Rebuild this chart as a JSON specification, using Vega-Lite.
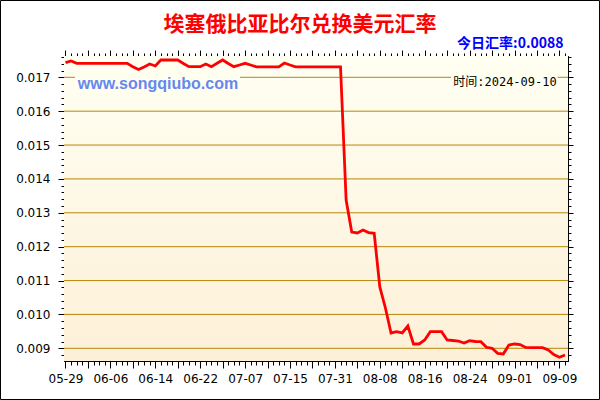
{
  "$schema": "https://vega.github.io/schema/vega-lite/v6.json",
  "width": 504,
  "height": 305,
  "autosize": {"type": "none"},
  "padding": {"left": 64, "top": 56, "right": 32, "bottom": 39},
  "background": "#FFFFFF",
  "title": {"text": "埃塞俄比亚比尔兑换美元汇率", "font": "Noto Sans CJK SC", "fontSize": 21, "fontWeight": "bold", "color": "#FF0000", "anchor": "middle", "baseline": "middle", "dx": -16, "offset": 0, "dy": 46},
  "datasets": {
    "rates": [
      {"i": 0, "rate": 0.017431}, {"i": 1, "rate": 0.017481}, {"i": 2, "rate": 0.017413}, {"i": 3, "rate": 0.017413},
      {"i": 4, "rate": 0.017413}, {"i": 5, "rate": 0.017413}, {"i": 6, "rate": 0.017413}, {"i": 7, "rate": 0.017413},
      {"i": 8, "rate": 0.017413}, {"i": 9, "rate": 0.017413}, {"i": 10, "rate": 0.017413}, {"i": 11, "rate": 0.017413},
      {"i": 12, "rate": 0.017313}, {"i": 13, "rate": 0.01723}, {"i": 14, "rate": 0.017304}, {"i": 15, "rate": 0.017393},
      {"i": 16, "rate": 0.017334}, {"i": 17, "rate": 0.017511}, {"i": 18, "rate": 0.017511}, {"i": 19, "rate": 0.017511},
      {"i": 20, "rate": 0.017511}, {"i": 21, "rate": 0.017407}, {"i": 22, "rate": 0.017313}, {"i": 23, "rate": 0.017313},
      {"i": 24, "rate": 0.017313}, {"i": 25, "rate": 0.017393}, {"i": 26, "rate": 0.017313}, {"i": 27, "rate": 0.017413},
      {"i": 28, "rate": 0.017511}, {"i": 29, "rate": 0.017407}, {"i": 30, "rate": 0.017313}, {"i": 31, "rate": 0.017363},
      {"i": 32, "rate": 0.017413}, {"i": 33, "rate": 0.017363}, {"i": 34, "rate": 0.01731}, {"i": 35, "rate": 0.01731},
      {"i": 36, "rate": 0.01731}, {"i": 37, "rate": 0.01731}, {"i": 38, "rate": 0.01731}, {"i": 39, "rate": 0.017422},
      {"i": 40, "rate": 0.017363}, {"i": 41, "rate": 0.01731}, {"i": 42, "rate": 0.01731}, {"i": 43, "rate": 0.01731},
      {"i": 44, "rate": 0.01731}, {"i": 45, "rate": 0.01731}, {"i": 46, "rate": 0.01731}, {"i": 47, "rate": 0.01731},
      {"i": 48, "rate": 0.01731}, {"i": 49, "rate": 0.01731}, {"i": 50, "rate": 0.013378}, {"i": 51, "rate": 0.012433},
      {"i": 52, "rate": 0.012404}, {"i": 53, "rate": 0.012492}, {"i": 54, "rate": 0.012418}, {"i": 55, "rate": 0.012395},
      {"i": 56, "rate": 0.01081}, {"i": 57, "rate": 0.01019}, {"i": 58, "rate": 0.009452}, {"i": 59, "rate": 0.00949},
      {"i": 60, "rate": 0.009452}, {"i": 61, "rate": 0.009658}, {"i": 62, "rate": 0.009127}, {"i": 63, "rate": 0.009127},
      {"i": 64, "rate": 0.009245}, {"i": 65, "rate": 0.00949}, {"i": 66, "rate": 0.00949}, {"i": 67, "rate": 0.00949},
      {"i": 68, "rate": 0.009245}, {"i": 69, "rate": 0.00923}, {"i": 70, "rate": 0.009215}, {"i": 71, "rate": 0.009156},
      {"i": 72, "rate": 0.009224}, {"i": 73, "rate": 0.009201}, {"i": 74, "rate": 0.009195}, {"i": 75, "rate": 0.00903},
      {"i": 76, "rate": 0.009}, {"i": 77, "rate": 0.008852}, {"i": 78, "rate": 0.008832}, {"i": 79, "rate": 0.009097},
      {"i": 80, "rate": 0.009127}, {"i": 81, "rate": 0.009112}, {"i": 82, "rate": 0.009024}, {"i": 83, "rate": 0.009018},
      {"i": 84, "rate": 0.009018}, {"i": 85, "rate": 0.009018}, {"i": 86, "rate": 0.00895}, {"i": 87, "rate": 0.008817},
      {"i": 88, "rate": 0.008734}, {"i": 89, "rate": 0.0088}
    ],
    "grid": [
      {"v": 0.009}, {"v": 0.01}, {"v": 0.011}, {"v": 0.012}, {"v": 0.013},
      {"v": 0.014}, {"v": 0.015}, {"v": 0.016}, {"v": 0.017}
    ]
  },
  "layer": [
    {
      "data": {"values": [{}]},
      "mark": {"type": "rect", "fill": {"gradient": "linear", "x1": 0, "y1": 0, "x2": 0, "y2": 1, "stops": [{"offset": 0, "color": "#FFFFF2"}, {"offset": 1, "color": "#FDF0D8"}]}, "strokeWidth": 0},
      "encoding": {
        "x": {"datum": -0.267, "type": "quantitative", "scale": {"domain": [-0.267, 89.53], "nice": false, "zero": false},
          "axis": {"orient": "top", "values": [0,1,2,3,4,5,6,7,8,9,10,11,12,13,14,15,16,17,18,19,20,21,22,23,24,25,26,27,28,29,30,31,32,33,34,35,36,37,38,39,40,41,42,43,44,45,46,47,48,49,50,51,52,53,54,55,56,57,58,59,60,61,62,63,64,65,66,67,68,69,70,71,72,73,74,75,76,77,78,79,80,81,82,83,84,85,86,87,88,89],
            "labels": false, "grid": false,
            "tickSize": {"condition": {"test": "datum.value % 4 == 0", "value": 6}, "value": 3},
            "title": "今日汇率:0.0088", "titleFont": "Noto Sans CJK SC", "titleFontSize": 14, "titleFontWeight": "bold", "titleColor": "#0000FF",
            "titleAnchor": "end", "titleAlign": "right", "titleBaseline": "alphabetic", "titleX": 499, "titleY": -9}},
        "x2": {"datum": 89.53},
        "y": {"datum": 0.008625, "type": "quantitative", "scale": {"domain": [0.008625, 0.017629], "nice": false, "zero": false},
          "axis": {"orient": "right", "values": [0.0088,0.009,0.0092,0.0094,0.0096,0.0098,0.01,0.0102,0.0104,0.0106,0.0108,0.011,0.0112,0.0114,0.0116,0.0118,0.012,0.0122,0.0124,0.0126,0.0128,0.013,0.0132,0.0134,0.0136,0.0138,0.014,0.0142,0.0144,0.0146,0.0148,0.015,0.0152,0.0154,0.0156,0.0158,0.016,0.0162,0.0164,0.0166,0.0168,0.017,0.0172,0.0174,0.0176],
            "labels": false, "grid": false, "title": null,
            "tickSize": {"condition": {"test": "abs(datum.value*1000 - round(datum.value*1000)) < 0.01", "value": 5}, "value": 3}}},
        "y2": {"datum": 0.017629}
      }
    },
    {
      "data": {"name": "grid"},
      "mark": {"type": "rule", "color": "#B8860B", "strokeWidth": 1},
      "encoding": {
        "y": {"field": "v", "type": "quantitative", "scale": {"domain": [0.008625, 0.017629], "nice": false, "zero": false}, "axis": null}
      }
    },
    {
      "data": {"values": [{}]},
      "mark": {"type": "rect", "fill": "#FFFFEF", "strokeWidth": 0},
      "encoding": {
        "x": {"datum": 1.69, "type": "quantitative", "scale": {"domain": [-0.267, 89.53], "nice": false, "zero": false}, "axis": null},
        "x2": {"datum": 31.1},
        "y": {"datum": 0.0168, "type": "quantitative", "scale": {"domain": [0.008625, 0.017629], "nice": false, "zero": false}, "axis": null},
        "y2": {"datum": 0.0172}
      }
    },
    {
      "data": {"values": [{}]},
      "mark": {"type": "rect", "fill": "#FFFFEF", "strokeWidth": 0},
      "encoding": {
        "x": {"datum": 68.69, "type": "quantitative", "scale": {"domain": [-0.267, 89.53], "nice": false, "zero": false}, "axis": null},
        "x2": {"datum": 87.66},
        "y": {"datum": 0.0168, "type": "quantitative", "scale": {"domain": [0.008625, 0.017629], "nice": false, "zero": false}, "axis": null},
        "y2": {"datum": 0.0172}
      }
    },
    {
      "data": {"name": "rates"},
      "mark": {"type": "line", "color": "#FF0000", "strokeWidth": 2.8},
      "encoding": {
        "x": {"field": "i", "type": "quantitative", "scale": {"domain": [-0.267, 89.53], "nice": false, "zero": false},
          "axis": {"orient": "bottom", "values": [0,1,2,3,4,5,6,7,8,9,10,11,12,13,14,15,16,17,18,19,20,21,22,23,24,25,26,27,28,29,30,31,32,33,34,35,36,37,38,39,40,41,42,43,44,45,46,47,48,49,50,51,52,53,54,55,56,57,58,59,60,61,62,63,64,65,66,67,68,69,70,71,72,73,74,75,76,77,78,79,80,81,82,83,84,85,86,87,88,89],
            "labelExpr": "datum.value % 8 == 0 ? ['05-29','06-06','06-14','06-22','07-07','07-15','07-31','08-08','08-16','08-24','09-01','09-09'][datum.value/8] : ''",
            "labelOverlap": false, "labelFlush": false, "labelPadding": 5, "grid": false, "title": null,
            "tickSize": {"condition": {"test": "datum.value % 4 == 0", "value": 7}, "value": 4}}},
        "y": {"field": "rate", "type": "quantitative", "scale": {"domain": [0.008625, 0.017629], "nice": false, "zero": false},
          "axis": {"orient": "left", "values": [0.0088,0.009,0.0092,0.0094,0.0096,0.0098,0.01,0.0102,0.0104,0.0106,0.0108,0.011,0.0112,0.0114,0.0116,0.0118,0.012,0.0122,0.0124,0.0126,0.0128,0.013,0.0132,0.0134,0.0136,0.0138,0.014,0.0142,0.0144,0.0146,0.0148,0.015,0.0152,0.0154,0.0156,0.0158,0.016,0.0162,0.0164,0.0166,0.0168,0.017,0.0172,0.0174,0.0176],
            "labelExpr": "abs(datum.value*1000 - round(datum.value*1000)) < 0.01 ? format(datum.value, '.3f') : ''",
            "labelOverlap": false, "labelFlush": false, "labelPadding": 8, "grid": false, "title": null,
            "tickSize": {"condition": {"test": "abs(datum.value*1000 - round(datum.value*1000)) < 0.01", "value": 6}, "value": 3}}}
      }
    },
    {
      "data": {"values": [{"t": "www.songqiubo.com"}]},
      "mark": {"type": "text", "font": "Liberation Sans", "fontSize": 16, "fontWeight": "bold", "color": "#6688EE", "align": "left", "baseline": "alphabetic"},
      "encoding": {
        "x": {"datum": 2.2, "type": "quantitative", "scale": {"domain": [-0.267, 89.53], "nice": false, "zero": false}, "axis": null},
        "y": {"datum": 0.016669, "type": "quantitative", "scale": {"domain": [0.008625, 0.017629], "nice": false, "zero": false}, "axis": null},
        "text": {"field": "t"}
      }
    },
    {
      "data": {"values": [{"t": "时间:2024-09-10"}]},
      "mark": {"type": "text", "font": "DejaVu Sans Mono, Noto Sans CJK SC", "fontSize": 12, "color": "#000000", "align": "right", "baseline": "alphabetic"},
      "encoding": {
        "x": {"datum": 87.52, "type": "quantitative", "scale": {"domain": [-0.267, 89.53], "nice": false, "zero": false}, "axis": null},
        "y": {"datum": 0.016758, "type": "quantitative", "scale": {"domain": [0.008625, 0.017629], "nice": false, "zero": false}, "axis": null},
        "text": {"field": "t"}
      }
    },
    {
      "data": {"values": [{}]},
      "mark": {"type": "rect", "fillOpacity": 0, "stroke": "#000000", "strokeWidth": 1, "clip": false},
      "encoding": {
        "x": {"datum": -11.58, "type": "quantitative", "scale": {"domain": [-0.267, 89.53], "nice": false, "zero": false}, "axis": null},
        "x2": {"datum": 95.15},
        "y": {"datum": 0.007488, "type": "quantitative", "scale": {"domain": [0.008625, 0.017629], "nice": false, "zero": false}, "axis": null},
        "y2": {"datum": 0.019267}
      }
    }
  ],
  "resolve": {"axis": {"x": "independent", "y": "independent"}},
  "config": {
    "view": {"stroke": "#000000", "strokeWidth": 1},
    "axis": {"domainColor": "#000000", "tickColor": "#000000", "grid": false, "labelFont": "DejaVu Sans", "labelFontSize": 12, "labelColor": "#000000"}
  }
}
